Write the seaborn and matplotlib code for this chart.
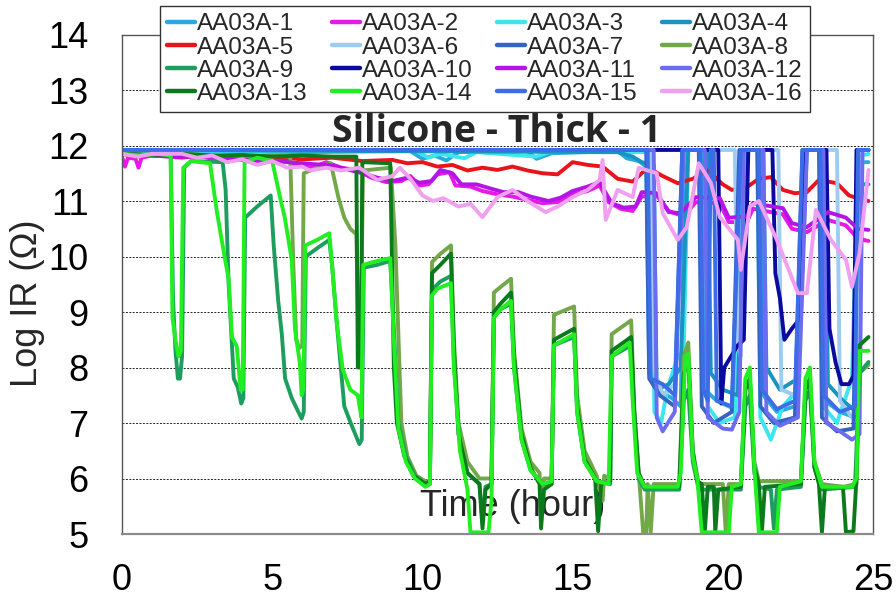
import matplotlib
matplotlib.use("Agg")
import matplotlib.pyplot as plt
import seaborn as sns
import pandas as pd

# ---- readings: (time in hours, log10 insulation resistance in ohm) ----
AA03A_1 = [(0, 11.92), (3.0, 11.9), (6.0, 11.88), (9.6, 11.9), (10.0, 11.76), (10.4, 11.82), (10.8, 11.73),
           (11.2, 11.88), (13.5, 11.9), (13.8, 11.76), (14.3, 11.86), (16.5, 11.9), (16.8, 11.77), (17.2, 11.72),
           (17.45, 11.62), (17.55, 7.9), (17.8, 7.6), (18.3, 7.45), (18.6, 7.3), (18.75, 11.92), (19.3, 11.92),
           (19.4, 7.6), (19.8, 7.4), (20.4, 7.25), (20.65, 11.92), (21.25, 11.92), (21.35, 7.5), (21.8, 7.2),
           (22.4, 7.3), (22.75, 11.92), (23.3, 11.92), (23.4, 7.4), (23.9, 7.2), (24.4, 7.1), (24.6, 11.7),
           (24.85, 11.7)]
AA03A_2 = [(0, 11.8), (0.1, 11.62), (0.2, 11.78), (0.45, 11.76), (0.55, 11.6), (0.65, 11.78), (1.0, 11.82),
           (1.5, 11.8), (2.0, 11.78), (2.5, 11.82), (3.0, 11.76), (3.3, 11.7), (3.6, 11.78), (4.2, 11.72),
           (4.8, 11.7), (5.3, 11.75), (5.8, 11.65), (6.3, 11.6), (6.8, 11.7), (7.3, 11.6), (7.8, 11.56),
           (8.3, 11.42), (8.8, 11.34), (9.3, 11.36), (9.6, 11.45), (9.9, 11.28), (10.2, 11.3), (10.5, 11.48),
           (10.9, 11.52), (11.1, 11.28), (11.6, 11.26), (12.0, 11.18), (12.5, 11.12), (13.0, 11.08), (13.5, 11.02),
           (14.0, 10.96), (14.5, 10.98), (15.0, 11.12), (15.5, 11.18), (15.9, 11.28), (16.2, 10.98), (16.6, 10.86),
           (17.0, 10.82), (17.3, 11.08), (17.8, 11.1), (18.2, 10.82), (18.7, 10.72), (19.1, 10.98), (19.9, 10.96),
           (20.2, 10.62), (20.8, 10.62), (21.0, 10.86), (22.0, 10.76), (22.3, 10.5), (22.8, 10.44), (23.5, 10.66),
           (24.1, 10.56), (24.5, 10.32), (24.85, 10.28)]
AA03A_3 = [(0, 11.9), (9.8, 11.9), (10.2, 11.78), (10.6, 11.85), (11.4, 11.77), (11.8, 11.88), (13.8, 11.8),
           (14.2, 11.88), (17.5, 11.88), (17.65, 11.8), (17.72, 7.2), (17.95, 7.0), (18.15, 7.6), (18.5, 8.2),
           (18.7, 8.3), (18.85, 11.92), (19.4, 11.92), (19.5, 7.3), (19.9, 7.0), (20.4, 7.1), (20.6, 11.92),
           (21.15, 11.92), (21.25, 7.1), (21.6, 6.7), (22.0, 7.3), (22.5, 7.6), (22.7, 11.92), (23.25, 11.92),
           (23.35, 7.3), (23.8, 7.0), (24.3, 7.8), (24.5, 11.8), (24.85, 11.85)]
AA03A_4 = [(0, 11.92), (16.5, 11.88), (17.0, 11.8), (17.3, 11.7), (17.7, 11.65), (17.8, 7.6), (18.2, 7.7),
           (18.6, 8.0), (18.85, 11.92), (19.5, 11.92), (19.6, 7.9), (20.0, 7.6), (20.5, 7.5), (20.75, 11.92),
           (21.35, 11.92), (21.45, 8.0), (21.9, 7.6), (22.5, 7.8), (22.8, 11.92), (23.4, 11.92), (23.5, 7.7),
           (24.0, 7.4), (24.45, 7.2), (24.6, 11.3), (24.85, 11.3)]
AA03A_5 = [(0, 11.85), (0.5, 11.8), (1.0, 11.85), (2.0, 11.8), (3.0, 11.82), (4.0, 11.78), (5.0, 11.8),
           (6.0, 11.75), (7.0, 11.78), (8.0, 11.72), (9.0, 11.74), (9.5, 11.68), (10.0, 11.7), (10.5, 11.62),
           (11.0, 11.65), (11.5, 11.55), (12.0, 11.6), (12.5, 11.56), (13.0, 11.62), (13.5, 11.55), (14.0, 11.5),
           (14.5, 11.48), (15.0, 11.7), (15.5, 11.65), (16.0, 11.62), (16.5, 11.4), (17.0, 11.35), (17.5, 11.6),
           (18.0, 11.45), (18.5, 11.32), (19.0, 11.4), (19.5, 11.55), (20.0, 11.3), (20.3, 11.2), (20.8, 11.25),
           (21.2, 11.4), (21.6, 11.43), (22.0, 11.2), (22.4, 11.14), (22.8, 11.16), (23.2, 11.38), (23.8, 11.32),
           (24.2, 11.1), (24.5, 11.05), (24.85, 11.0)]
AA03A_6 = [(0, 11.92), (17.6, 11.92), (17.7, 8.0), (18.0, 7.5), (18.4, 7.7), (18.7, 11.92), (20.4, 11.92),
           (20.5, 8.4), (20.6, 8.2), (20.7, 11.92), (21.85, 11.92), (21.95, 7.6), (22.4, 7.5), (22.7, 11.92),
           (23.8, 11.92), (23.9, 7.4), (24.3, 7.1), (24.5, 7.3), (24.65, 11.92), (24.85, 11.92)]
AA03A_7 = [(0, 11.92), (17.45, 11.92), (17.55, 7.8), (17.9, 7.5), (18.4, 7.3), (18.65, 11.92), (19.2, 11.92),
           (19.3, 7.3), (19.7, 7.0), (20.3, 7.2), (20.55, 11.92), (21.15, 11.92), (21.25, 7.3), (21.7, 7.0),
           (22.4, 7.1), (22.65, 11.92), (23.2, 11.92), (23.3, 7.1), (23.8, 6.85), (24.35, 6.9), (24.5, 11.92),
           (24.85, 11.92)]
AA03A_8 = [(0, 11.85), (1, 11.83), (2, 11.85), (3, 11.82), (4, 11.8), (5, 11.82), (5.6, 11.8), (5.7, 9.9),
           (5.8, 8.5), (5.9, 8.35), (6.0, 8.4), (6.05, 11.5), (6.5, 11.6), (6.95, 11.68), (7.2, 11.07),
           (7.4, 10.7), (7.6, 10.5), (7.8, 10.4), (7.88, 8.5), (7.95, 8.3), (8.02, 11.55), (8.95, 11.6),
           (9.1, 10.2), (9.3, 7.0), (9.5, 6.4), (9.8, 6.05), (10.1, 5.95), (10.25, 5.95), (10.32, 9.9),
           (10.6, 10.05), (10.95, 10.2), (11.05, 8.5), (11.2, 7.0), (11.5, 6.3), (11.9, 6.0), (12.3, 6.0),
           (12.38, 9.35), (12.6, 9.45), (12.95, 9.6), (13.05, 8.3), (13.3, 6.9), (13.6, 6.3), (13.9, 6.1),
           (13.95, 5.3), (14.05, 6.0), (14.3, 6.0), (14.38, 8.95), (15.05, 9.1), (15.15, 7.5), (15.4, 6.5),
           (15.8, 6.05), (16.0, 5.6), (16.05, 6.05), (16.25, 6.0), (16.3, 8.6), (16.95, 8.85), (17.05, 7.3),
           (17.2, 6.1), (17.35, 5.03), (17.45, 5.03), (17.5, 5.9), (17.6, 5.03), (17.7, 5.9), (18.55, 5.9),
           (18.7, 8.2), (18.85, 8.45), (19.0, 6.5), (19.2, 5.9), (20.0, 5.9), (20.1, 5.03), (20.2, 5.9),
           (20.6, 5.9), (20.75, 7.6), (20.9, 7.8), (21.05, 6.3), (21.2, 5.95), (22.6, 5.95), (22.75, 7.6),
           (22.9, 7.8), (23.05, 6.3), (23.3, 5.9), (24.0, 5.85), (24.45, 5.9), (24.55, 7.9), (24.85, 8.05)]
AA03A_9 = [(0, 11.85), (0.8, 11.82), (1.62, 11.82), (1.7, 9.2), (1.78, 8.3), (1.86, 7.8), (1.93, 7.8),
           (2.0, 8.2), (2.07, 11.6), (2.3, 11.72), (3.35, 11.7), (3.45, 11.2), (3.55, 9.5), (3.65, 8.5),
           (3.72, 7.8), (3.85, 7.65), (3.97, 7.35), (4.04, 7.45), (4.1, 10.7), (4.5, 10.9), (4.95, 11.1),
           (5.05, 10.2), (5.2, 9.2), (5.32, 8.6), (5.43, 7.8), (5.65, 7.45), (5.87, 7.2), (5.98, 7.08),
           (6.05, 7.2), (6.12, 10.0), (6.5, 10.15), (6.9, 10.3), (7.0, 9.8), (7.15, 8.8), (7.3, 7.9),
           (7.4, 7.3), (7.65, 6.95), (7.9, 6.62), (7.98, 6.7), (8.05, 9.8), (8.5, 9.85), (8.93, 9.92),
           (9.05, 8.7), (9.2, 7.0), (9.45, 6.4), (9.75, 6.05), (10.1, 5.9), (10.25, 5.9), (10.32, 9.4),
           (10.6, 9.55), (10.95, 9.65), (11.05, 8.1), (11.25, 6.6), (11.5, 6.1), (11.9, 5.9), (12.0, 5.2),
           (12.1, 5.85), (12.3, 5.9), (12.38, 8.9), (12.6, 9.05), (12.95, 9.15), (13.05, 8.0), (13.3, 6.7),
           (13.6, 6.15), (14.0, 5.9), (14.3, 5.9), (14.38, 8.4), (15.05, 8.55), (15.15, 7.2), (15.4, 6.3),
           (15.8, 5.95), (16.25, 5.9), (16.3, 8.2), (16.95, 8.4), (17.05, 7.2), (17.2, 6.0), (17.4, 5.8),
           (18.55, 5.8), (18.7, 7.4), (18.85, 7.6), (19.0, 6.3), (19.2, 5.8), (20.6, 5.8), (20.75, 7.3),
           (20.9, 7.5), (21.05, 6.1), (21.2, 5.85), (21.6, 5.8), (21.7, 5.1), (21.8, 5.8), (22.6, 5.85),
           (22.75, 7.4), (22.9, 7.6), (23.05, 6.2), (23.3, 5.8), (24.4, 5.85), (24.55, 7.9), (24.85, 8.1)]
AA03A_10 = [(0, 11.92), (19.85, 11.92), (19.95, 7.35), (20.05, 8.0), (20.5, 8.4), (20.7, 8.5), (20.85, 11.92),
            (21.65, 11.92), (21.75, 9.7), (21.9, 9.25), (22.05, 8.5), (22.3, 8.7), (22.6, 8.9), (22.75, 11.92),
            (23.45, 11.92), (23.55, 8.7), (23.75, 8.1), (23.95, 7.7), (24.2, 7.7), (24.35, 7.85), (24.45, 11.92),
            (24.85, 11.92)]
AA03A_11 = [(0, 11.85), (1, 11.82), (2, 11.8), (3, 11.8), (4, 11.74), (5, 11.72), (6, 11.68), (7, 11.64),
            (8, 11.5), (8.5, 11.42), (9.0, 11.36), (9.5, 11.42), (9.9, 11.33), (10.3, 11.36), (10.6, 11.56),
            (11.0, 11.5), (11.3, 11.3), (11.8, 11.3), (12.3, 11.22), (12.7, 11.16), (13.2, 11.16), (13.6, 11.08),
            (14.2, 11.0), (14.6, 11.06), (15.0, 11.18), (15.5, 11.26), (15.9, 11.34), (16.3, 10.96), (16.7, 10.88),
            (17.1, 10.9), (17.3, 11.16), (17.8, 11.14), (18.2, 10.8), (18.6, 10.78), (19.1, 11.07), (19.9, 11.05),
            (20.2, 10.7), (20.8, 10.72), (21.0, 10.96), (22.0, 10.87), (22.3, 10.6), (22.8, 10.53), (23.5, 10.8),
            (24.1, 10.7), (24.5, 10.5), (24.85, 10.48)]
AA03A_12 = [(0, 11.92), (17.7, 11.92), (17.8, 7.1), (18.0, 6.85), (18.4, 7.2), (18.7, 11.92), (19.4, 11.92),
            (19.5, 7.1), (20.0, 6.9), (20.3, 6.88), (20.55, 7.2), (20.7, 11.92), (21.35, 11.92), (21.45, 7.2),
            (21.9, 6.95), (22.5, 7.1), (22.8, 11.92), (23.35, 11.92), (23.45, 7.0), (23.9, 6.85), (24.3, 6.7),
            (24.55, 6.8), (24.65, 11.92), (24.85, 11.92)]
AA03A_13 = [(0, 11.85), (1, 11.83), (2, 11.85), (3, 11.82), (4, 11.83), (5, 11.8), (6, 11.82), (7, 11.8),
            (7.8, 11.8), (7.85, 8.0), (7.95, 8.0), (8.0, 11.7), (8.93, 11.68), (9.05, 8.0), (9.15, 7.0),
            (9.4, 6.4), (9.7, 6.05), (10.1, 5.9), (10.25, 5.95), (10.32, 9.7), (10.6, 9.85), (10.95, 10.05),
            (11.05, 8.3), (11.2, 6.8), (11.5, 6.1), (11.9, 5.9), (12.0, 5.1), (12.1, 5.8), (12.3, 5.9),
            (12.38, 9.0), (12.6, 9.15), (12.95, 9.35), (13.05, 8.2), (13.3, 6.8), (13.6, 6.2), (13.9, 5.9),
            (13.95, 5.1), (14.05, 5.8), (14.3, 5.9), (14.38, 8.5), (15.05, 8.7), (15.15, 7.3), (15.4, 6.35),
            (15.75, 6.0), (15.85, 5.05), (15.95, 5.9), (16.25, 5.95), (16.3, 8.3), (16.95, 8.55), (17.05, 7.2),
            (17.2, 6.1), (17.4, 5.85), (18.55, 5.85), (18.7, 7.9), (18.85, 8.1), (19.0, 6.5), (19.15, 5.95),
            (19.3, 5.9), (19.4, 5.03), (19.5, 5.85), (19.7, 5.85), (19.75, 5.03), (19.85, 5.8), (20.6, 5.85),
            (20.75, 7.6), (20.9, 7.8), (21.05, 6.2), (21.2, 5.9), (21.3, 5.03), (21.4, 5.85), (22.6, 5.9),
            (22.75, 7.6), (22.9, 7.8), (23.05, 6.2), (23.2, 5.9), (23.3, 5.03), (23.4, 5.85), (24.0, 5.85),
            (24.1, 5.03), (24.35, 5.05), (24.45, 6.0), (24.55, 8.4), (24.85, 8.55)]
AA03A_14 = [(0, 11.85), (0.6, 11.82), (1.2, 11.85), (1.62, 11.82), (1.68, 8.9), (1.78, 8.5), (1.88, 8.2),
            (1.96, 8.3), (2.04, 11.6), (2.3, 11.72), (2.93, 11.68), (3.16, 10.8), (3.43, 9.95), (3.55, 9.6),
            (3.66, 8.55), (3.82, 8.38), (3.95, 7.6), (4.02, 7.6), (4.08, 11.7), (4.5, 11.78), (5.0, 11.72),
            (5.26, 11.07), (5.42, 10.7), (5.65, 9.94), (5.76, 8.68), (5.92, 8.08), (5.98, 7.5), (6.04, 7.6),
            (6.1, 10.2), (6.5, 10.3), (6.9, 10.42), (7.0, 9.8), (7.15, 8.8), (7.35, 7.96), (7.6, 7.6),
            (7.85, 7.5), (7.97, 7.1), (8.03, 9.85), (8.5, 9.92), (8.93, 9.97), (9.05, 8.5), (9.2, 6.9),
            (9.45, 6.3), (9.75, 6.0), (10.1, 5.85), (10.25, 5.9), (10.32, 9.3), (10.5, 9.42), (10.95, 9.52),
            (11.05, 8.0), (11.25, 6.5), (11.5, 5.8), (11.6, 5.03), (12.2, 5.03), (12.3, 5.6), (12.38, 8.9),
            (12.6, 9.05), (12.95, 9.2), (13.05, 8.0), (13.3, 6.7), (13.6, 6.15), (14.0, 5.9), (14.3, 5.95),
            (14.38, 8.4), (15.05, 8.6), (15.15, 7.2), (15.4, 6.3), (15.8, 5.95), (16.2, 5.9), (16.3, 8.2),
            (16.9, 8.45), (17.0, 7.4), (17.15, 6.1), (17.4, 5.85), (18.5, 5.85), (18.6, 6.1), (18.75, 8.2),
            (18.85, 8.25), (19.0, 6.4), (19.15, 6.0), (19.3, 5.03), (20.2, 5.03), (20.3, 5.85), (20.6, 5.9),
            (20.75, 7.8), (20.9, 8.0), (21.05, 6.2), (21.2, 5.03), (21.8, 5.03), (21.9, 5.85), (22.6, 5.95),
            (22.75, 7.8), (22.9, 8.0), (23.05, 6.3), (23.3, 5.85), (24.3, 5.85), (24.45, 6.0), (24.55, 8.3),
            (24.85, 8.3)]
AA03A_15 = [(0, 11.92), (17.5, 11.92), (17.6, 7.8), (18.0, 7.7), (18.4, 7.5), (18.65, 11.92), (19.25, 11.92),
            (19.35, 7.6), (19.5, 7.4), (19.6, 11.92), (19.7, 11.92), (19.8, 7.4), (20.3, 7.3), (20.6, 11.92),
            (21.2, 11.92), (21.3, 7.6), (21.8, 7.25), (22.4, 7.4), (22.65, 11.92), (23.25, 11.92), (23.35, 7.5),
            (23.9, 7.2), (24.4, 7.3), (24.5, 11.92), (24.85, 11.92)]
AA03A_16 = [(0, 11.85), (0.5, 11.8), (1.0, 11.85), (2.0, 11.85), (2.5, 11.78), (3.0, 11.82), (3.5, 11.7),
            (4.0, 11.75), (4.5, 11.65), (5.0, 11.72), (5.5, 11.6), (6.0, 11.62), (6.25, 11.55), (6.8, 11.6),
            (7.3, 11.55), (7.9, 11.6), (8.5, 11.38), (9.0, 11.45), (9.25, 11.6), (9.6, 11.4), (10.0, 11.1),
            (10.35, 11.0), (10.7, 11.05), (11.2, 10.9), (11.6, 10.95), (12.0, 10.71), (12.5, 11.07), (13.0, 11.2),
            (13.5, 11.0), (14.1, 10.8), (14.5, 10.9), (15.0, 11.07), (15.5, 11.2), (15.9, 11.38), (16.0, 11.74),
            (16.1, 10.66), (16.5, 11.2), (17.0, 11.07), (17.2, 11.6), (17.8, 11.5), (18.0, 10.78), (18.5, 10.3),
            (18.8, 10.53), (19.2, 11.68), (19.6, 11.33), (19.9, 10.71), (20.5, 10.3), (20.6, 9.76), (20.9, 10.9),
            (21.2, 11.0), (21.8, 10.3), (22.5, 9.34), (22.8, 9.34), (23.1, 10.84), (23.6, 10.3), (24.1, 9.94),
            (24.3, 9.45), (24.55, 10.06), (24.85, 11.56)]

series_names = ["AA03A-1", "AA03A-2", "AA03A-3", "AA03A-4", "AA03A-5", "AA03A-6", "AA03A-7", "AA03A-8",
                "AA03A-9", "AA03A-10", "AA03A-11", "AA03A-12", "AA03A-13", "AA03A-14", "AA03A-15", "AA03A-16"]
series_points = [AA03A_1, AA03A_2, AA03A_3, AA03A_4, AA03A_5, AA03A_6, AA03A_7, AA03A_8,
                 AA03A_9, AA03A_10, AA03A_11, AA03A_12, AA03A_13, AA03A_14, AA03A_15, AA03A_16]
series_colors = ["#2AA9E0", "#E619E6", "#3BE6EE", "#1B93C0", "#E8141B", "#9FCBF0", "#3464C0", "#72A84A",
                 "#1E9E5E", "#0A0A9E", "#B414E6", "#6C6CF0", "#0B7A1C", "#22EE22", "#3C6CE8", "#F0A0F0"]
x_ticks = [0, 5, 10, 15, 20, 25]
y_ticks = [5, 6, 7, 8, 9, 10, 11, 12, 13, 14]

# ---- long-form table ----
rows = []
for name, pts in zip(series_names, series_points):
    for t, v in pts:
        rows.append((name, t, v))
df = pd.DataFrame(rows, columns=["specimen", "time", "log_ir"])

sns.set_style("white")
plt.rcParams["font.family"] = ["Liberation Sans", "DejaVu Sans"]

fig = plt.figure(figsize=(8.96, 5.99), dpi=100)
ax = fig.add_axes([0.13616, 0.10851, 0.83817, 0.83389])

sns.lineplot(data=df, x="time", y="log_ir", hue="specimen", hue_order=series_names,
             palette=dict(zip(series_names, series_colors)), sort=False, estimator=None,
             linewidth=2.8, ax=ax, legend=True)

ax.set_xlim(0, 25)
ax.set_ylim(5, 14)
ax.set_xticks(x_ticks)
ax.set_yticks(y_ticks)
ax.set_axisbelow(True)
ax.grid(axis="y", color="#222222", linestyle=(0, (2, 1.5)), linewidth=0.7)
ax.grid(axis="x", visible=False)

for side in ["left", "top", "right"]:
    ax.spines[side].set_color("#555555")
    ax.spines[side].set_linewidth(1.0)
ax.spines["bottom"].set_color("#8c8c8c")
ax.spines["bottom"].set_linewidth(1.6)

ax.tick_params(axis="both", direction="out", length=8, width=1, color="#666666",
               labelsize=26, labelcolor="black")
ax.tick_params(axis="y", pad=16)
ax.tick_params(axis="x", pad=13)

ax.set_ylabel("Log IR (\u03a9)", fontsize=26)
ax.yaxis.set_label_coords(-0.1252, 0.4625)
ax.yaxis.label.set_verticalalignment("center")

ax.set_xlabel("Time (hour)", fontsize=26)
ax.xaxis.set_label_coords(0.5206, 0.036)
ax.xaxis.label.set_verticalalignment("baseline")

ax.text(12.46, 12.07, "Silicone - Thick - 1", ha="center", va="baseline",
        fontsize=27, fontweight="bold", family=["Open Sans", "DejaVu Sans"])

# legend: four columns, filled row by row
old = ax.get_legend()
handles = list(old.legend_handles)
labels = [t.get_text() for t in old.get_texts()]
old.remove()
order = [0, 4, 8, 12, 1, 5, 9, 13, 2, 6, 10, 14, 3, 7, 11, 15]
leg = ax.legend([handles[i] for i in order], [labels[i] for i in order], ncol=4,
                loc="upper left", bbox_to_anchor=(160 / 896, 1 - 6 / 599),
                bbox_transform=fig.transFigure, fontsize=17.5, frameon=True, fancybox=False,
                edgecolor="#333333", framealpha=1, borderaxespad=0, handlelength=1.15,
                handletextpad=0.08, columnspacing=1.0, labelspacing=0.05, borderpad=0.3)
leg.get_frame().set_linewidth(1.0)
for line in leg.get_lines():
    line.set_linewidth(3.2)

fig.savefig("out.png", dpi=100)
